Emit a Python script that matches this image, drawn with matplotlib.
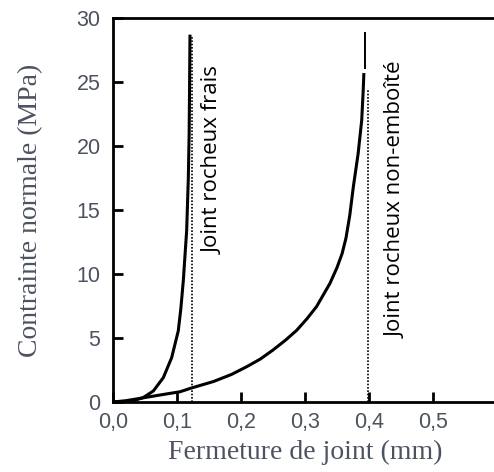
import matplotlib
matplotlib.use('Agg')
from matplotlib import pyplot as plt
from matplotlib.ticker import FuncFormatter

# courbe joint rocheux frais (fermeture mm, contrainte MPa)
frais_x = [0.0, 0.021, 0.035, 0.047, 0.063, 0.0786, 0.0917, 0.102, 0.106,
           0.1099, 0.1151, 0.1177, 0.119, 0.1197, 0.1203]
frais_y = [0.0, 0.05, 0.15, 0.34, 0.86, 1.9, 3.47, 5.56, 7.3,
           9.5, 13.4, 17.5, 21.0, 25.0, 28.7]

# courbe joint rocheux non-emboite
nonemb_x = [0.0, 0.02, 0.05, 0.08, 0.1047, 0.123, 0.157, 0.185, 0.209, 0.23,
            0.25, 0.27, 0.287, 0.303, 0.318, 0.339, 0.350, 0.358, 0.364, 0.370,
            0.3755, 0.383, 0.3886, 0.391, 0.392]
nonemb_y = [0.0, 0.1, 0.35, 0.6, 0.8, 1.1, 1.6, 2.15, 2.76, 3.35,
            4.06, 4.85, 5.6, 6.5, 7.45, 9.27, 10.5, 11.6, 12.8, 14.6,
            16.8, 19.4, 22.0, 24.4, 25.7]
# petit segment vertical au sommet
nonemb_top_x = [0.3945, 0.3945]
nonemb_top_y = [26.0, 28.9]

# lignes pointillees verticales
asym_x = [0.123, 0.398]
asym_top = [28.5, 24.4]

labels = ['Joint rocheux frais', 'Joint rocheux non-emboîté']
label_pos = [(0.157, 18.9), (0.442, 15.8)]

xticks = [0.0, 0.1, 0.2, 0.3, 0.4, 0.5]
yticks = [0, 5, 10, 15, 20, 25, 30]

txt_col = '#4c5260'

fig = plt.figure(figsize=(4.94, 4.72), dpi=100)
ax = fig.add_axes([113/494, 1 - 402/472, 384/494, 384/472])

ax.plot(frais_x, frais_y, color='black', lw=2.2, solid_capstyle='butt')
ax.plot(nonemb_x, nonemb_y, color='black', lw=2.2, solid_capstyle='butt')
ax.plot(nonemb_top_x, nonemb_top_y, color='black', lw=1.4, solid_capstyle='butt')
for xv, top in zip(asym_x, asym_top):
    ax.plot([xv, xv], [0, top], color='black', lw=1.2, ls=(0, (1, 1)))

for txt, (tx, ty) in zip(labels, label_pos):
    ax.text(tx, ty, txt, rotation=90, ha='center', va='center',
            fontsize=16, family='Open Sans', color='black')

ax.set_xlim(0, 0.6)
ax.set_ylim(0, 30)
ax.set_xticks(xticks)
ax.set_yticks(yticks)
ax.xaxis.set_major_formatter(FuncFormatter(lambda v, p: ('%.1f' % v).replace('.', ',')))
ax.tick_params(direction='in', length=7, width=2, labelsize=15.5, labelcolor=txt_col, pad=9)
ax.tick_params(axis='x', pad=7)
for lab in ax.get_xticklabels() + ax.get_yticklabels():
    lab.set_family('Liberation Sans')

ax.spines['right'].set_visible(False)
for s in ['left', 'bottom', 'top']:
    ax.spines[s].set_linewidth(2.0)

ax.set_xlabel('Fermeture de joint (mm)', family='Liberation Serif', fontsize=20, color=txt_col, labelpad=5)
ax.set_ylabel('Contrainte normale (MPa)', family='Liberation Serif', fontsize=20, color=txt_col, labelpad=24)

plt.savefig('out.png', dpi=100)
